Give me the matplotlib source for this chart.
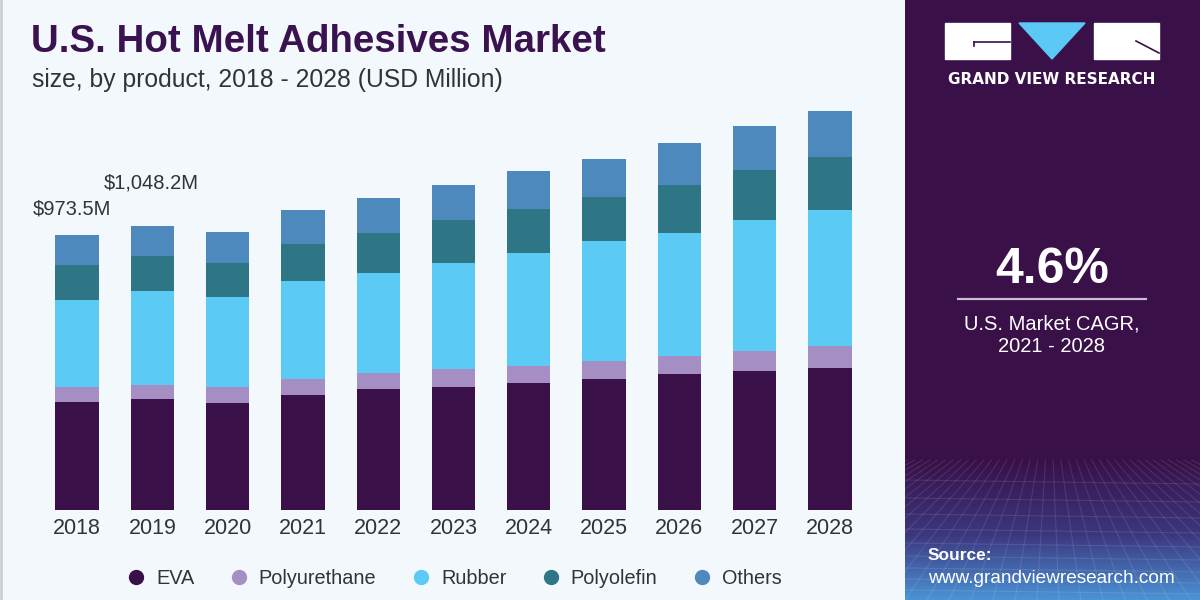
import matplotlib
matplotlib.use("Agg")
import matplotlib.pyplot as plt
import numpy as np
from matplotlib.lines import Line2D
from matplotlib.patches import Rectangle, Polygon

# ---------------- data ----------------
years = ["2018", "2019", "2020", "2021", "2022", "2023", "2024", "2025", "2026", "2027", "2028"]
segments = ["EVA", "Polyurethane", "Rubber", "Polyolefin", "Others"]
eva = [382.3, 392.9, 378.8, 407.1, 428.3, 435.4, 449.6, 463.7, 481.4, 492.1, 502.7]
polyurethane = [53.1, 49.6, 56.6, 56.6, 56.6, 63.7, 60.2, 63.7, 63.7, 70.8, 77.9]
rubber = [308.0, 332.8, 318.6, 346.9, 354.0, 375.2, 400.0, 424.8, 435.4, 463.7, 481.4]
polyolefin = [123.9, 123.9, 120.4, 131.0, 141.6, 152.2, 155.8, 155.8, 169.9, 177.0, 187.6]
others = [106.2, 106.2, 109.7, 120.4, 123.9, 123.9, 134.5, 134.5, 148.7, 155.8, 162.8]
total_labels = ["$973.5M", "$1,048.2M"]
cagr_value = "4.6%"
cagr_text = "U.S. Market CAGR,\n2021 - 2028"

colors = ["#3A1049", "#A48EC3", "#5BCAF5", "#2E7686", "#4E89BE"]

W, H = 1200, 600
BG = "#F3F8FC"
PURPLE = "#391048"
TXT = "#333333"

def fx(x):
    return x / W

def fy(y):
    return 1 - y / H

fig = plt.figure(figsize=(12, 6), dpi=100, facecolor=BG)

# ---------------- main chart ----------------
left_px, right_px = 39.4, 867.6
bottom_px, top_px = 510, 100
ax = fig.add_axes([fx(left_px), fy(bottom_px), fx(right_px - left_px), (bottom_px - top_px) / H])
ax.set_facecolor("none")
x = np.arange(len(years))
series = [eva, polyurethane, rubber, polyolefin, others]
base = np.zeros(len(years))
for vals, c, name in zip(series, colors, segments):
    ax.bar(x, vals, bottom=base, width=0.575, color=c, edgecolor="none", label=name)
    base = base + np.array(vals)
totals = base
ax.set_xlim(-0.5, len(years) - 0.5)
ax.set_ylim(0, 1451.4)
for s in ax.spines.values():
    s.set_visible(False)
ax.set_yticks([])
ax.set_xticks(x)
ax.set_xticklabels(years, fontsize=15.5, color=TXT, family="Liberation Sans")
ax.tick_params(axis="x", length=0, pad=6)

# total annotations
offs = [(-4, 25), (-1, 41)]
for i, (lab, off) in enumerate(zip(total_labels, offs)):
    ax.annotate(lab, xy=(i, totals[i]), xytext=(off[0], off[1] * 0.75), textcoords="offset points",
                ha="center", va="center", fontsize=14.5, color=TXT, family="Liberation Sans")

# legend
handles = [Line2D([], [], marker="o", ls="", color=c, markersize=10) for c in colors]
leg = fig.legend(handles, segments, ncol=5, frameon=False, loc="center",
                 bbox_to_anchor=(fx(454), fy(578)), handletextpad=0.5,
                 columnspacing=1.75, handlelength=1.0,
                 prop={"family": "Liberation Sans", "size": 14.3})
for t in leg.get_texts():
    t.set_color(TXT)

# title
fig.text(fx(31), fy(52), "U.S. Hot Melt Adhesives Market", fontsize=27.7, fontweight="bold",
         color="#3A1250", family="Liberation Sans", ha="left", va="baseline")
fig.text(fx(32), fy(87), "size, by product, 2018 - 2028 (USD Million)", fontsize=17.8,
         color=TXT, family="Liberation Sans", ha="left", va="baseline")

# left thin border
fig.add_artist(Line2D([fx(1), fx(1)], [0, 1], transform=fig.transFigure, color="#CFCFD4", lw=2))

# ---------------- right panel ----------------
pax = fig.add_axes([fx(905), 0, fx(295), 1])
pax.set_xlim(905, 1200)
pax.set_ylim(600, 0)
pax.axis("off")
# gradient background
ny = 600
grad = np.zeros((ny, 2, 3))
top_c = np.array(matplotlib.colors.to_rgb(PURPLE))
mid_c = np.array(matplotlib.colors.to_rgb("#3C3880"))
bot_c = np.array(matplotlib.colors.to_rgb("#4B94D6"))
for yy in range(ny):
    if yy < 460:
        c = top_c
    elif yy < 535:
        t = (yy - 460) / 75
        c = top_c * (1 - t) + mid_c * t
    else:
        t = (yy - 535) / 65
        c = mid_c * (1 - t) + bot_c * t
    grad[yy, :, :] = c
pax.imshow(grad, extent=[905, 1200, 600, 0], aspect="auto", zorder=0)

# faint mesh in the bottom area
for k in range(-12, 26):
    xa = 905 + k * 22
    pax.plot([1050 + (xa - 1050) * 0.35, xa], [460, 600], color="white", alpha=0.10, lw=0.8, zorder=1)
for yy in [480, 498, 514, 529, 543, 556, 568, 579, 590]:
    pax.plot([905, 1200], [yy, yy + 4], color="white", alpha=0.10, lw=0.8, zorder=1)

# logo
pax.add_patch(Rectangle((945, 23), 65, 36, color="white", zorder=2))
pax.add_patch(Rectangle((1094, 23), 65, 36, color="white", zorder=2))
pax.add_patch(Polygon([[1019, 23], [1085, 23], [1052, 59]], closed=True, color="#5BC8F5", zorder=2))
pax.plot([974, 1010], [41.7, 41.7], color=PURPLE, lw=1.2, zorder=3)
pax.plot([974, 974], [41.7, 46], color=PURPLE, lw=1.2, zorder=3)
pax.plot([1136, 1159], [41, 53], color=PURPLE, lw=1.2, zorder=3)
pax.text(1052, 79, "GRAND VIEW RESEARCH", color="white", fontsize=11, fontweight="bold",
         family="DejaVu Sans", ha="center", va="center", zorder=3)

# CAGR block
pax.text(1052, 283, cagr_value, color="white", fontsize=36, fontweight="bold",
         family="Liberation Sans", ha="center", va="baseline", zorder=3)
pax.plot([958, 1146], [299, 299], color="#C9BCD4", lw=1.6, zorder=3)
pax.text(1052, 335, cagr_text, color="white", fontsize=14.5, family="Liberation Sans",
         ha="center", va="center", linespacing=1.25, zorder=3)

# source
pax.text(928, 560, "Source:", color="white", fontsize=12.5, fontweight="bold",
         family="Liberation Sans", ha="left", va="baseline", zorder=3)
pax.text(928, 583, "www.grandviewresearch.com", color="white", fontsize=13.7,
         family="Liberation Sans", ha="left", va="baseline", zorder=3)

fig.savefig("out.png", dpi=100, facecolor=BG)
